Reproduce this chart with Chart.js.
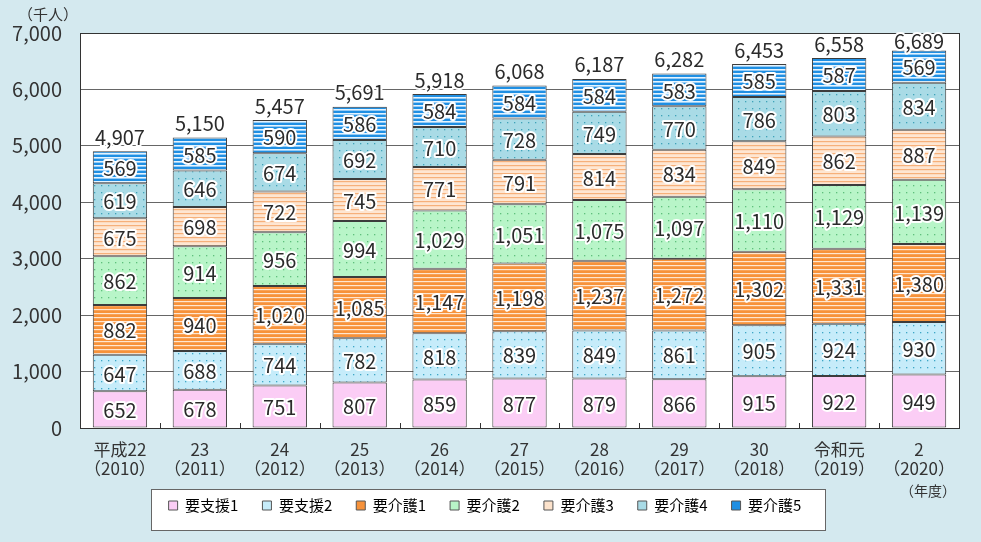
<!DOCTYPE html>
<html lang="ja">
<head>
<meta charset="utf-8">
<script src="https://cdn.jsdelivr.net/npm/chart.js@4/dist/chart.umd.min.js"></script>
<style>
  html, body { margin: 0; padding: 0; background: #d4e9ef; }
  #wrap { width: 981px; height: 542px; }
</style>
</head>
<body>
<div id="wrap"><canvas id="careChart" width="981" height="542"></canvas></div>
<script>
const years = [
  ["平成22", "（2010）"], ["23", "（2011）"], ["24", "（2012）"], ["25", "（2013）"],
  ["26", "（2014）"], ["27", "（2015）"], ["28", "（2016）"], ["29", "（2017）"],
  ["30", "（2018）"], ["令和元", "（2019）"], ["2", "（2020）"]
];
const shien1 = [652, 678, 751, 807, 859, 877, 879, 866, 915, 922, 949];
const shien2 = [647, 688, 744, 782, 818, 839, 849, 861, 905, 924, 930];
const kaigo1 = [882, 940, 1020, 1085, 1147, 1198, 1237, 1272, 1302, 1331, 1380];
const kaigo2 = [862, 914, 956, 994, 1029, 1051, 1075, 1097, 1110, 1129, 1139];
const kaigo3 = [675, 698, 722, 745, 771, 791, 814, 834, 849, 862, 887];
const kaigo4 = [619, 646, 674, 692, 710, 728, 749, 770, 786, 803, 834];
const kaigo5 = [569, 585, 590, 586, 584, 584, 584, 583, 585, 587, 569];
const totals = [4907, 5150, 5457, 5691, 5918, 6068, 6187, 6282, 6453, 6558, 6689];
const yTicks = [0, 1000, 2000, 3000, 4000, 5000, 6000, 7000];

const FONT = "'Noto Sans CJK JP', 'Noto Sans', sans-serif";

function dotPattern(bg, dot) {
  const c = document.createElement("canvas");
  c.width = 7; c.height = 7;
  const g = c.getContext("2d");
  g.fillStyle = bg;
  g.fillRect(0, 0, 7, 7);
  g.fillStyle = dot;
  g.fillRect(3, 3, 1.3, 1.3);
  return g.createPattern(c, "repeat");
}

function stripePattern(bg, line, w) {
  const c = document.createElement("canvas");
  c.width = 8; c.height = 4;
  const g = c.getContext("2d");
  g.fillStyle = bg;
  g.fillRect(0, 0, 8, 4);
  g.fillStyle = line;
  g.fillRect(0, 1, 8, w);
  return g.createPattern(c, "repeat");
}

const series = [
  { label: "要支援1", data: shien1, color: "#fbcdf5", fill: "#fbcdf5" },
  { label: "要支援2", data: shien2, color: "#c6ecfa", fill: dotPattern("#c6ecfa", "#3ea6c6") },
  { label: "要介護1", data: kaigo1, color: "#f7923a", fill: stripePattern("#f7923a", "#ffe6cf", 1.2) },
  { label: "要介護2", data: kaigo2, color: "#b8f5c8", fill: dotPattern("#b8f5c8", "#5fbf7c") },
  { label: "要介護3", data: kaigo3, color: "#fde3cc", fill: stripePattern("#fee6d2", "#f6b07a", 1.2) },
  { label: "要介護4", data: kaigo4, color: "#a9dbe6", fill: dotPattern("#a9dbe6", "#3fa2b8") },
  { label: "要介護5", data: kaigo5, color: "#1f8fe3", fill: stripePattern("#1f8fe3", "#e4f4ff", 1.6) }
];

const fmt = (v) => Number(v).toLocaleString("en-US");

// the x labels are clipped to the x scale box, so the scale is made tall
// and the legend is pulled up over its empty lower part afterwards
const legendShift = {
  id: "legendShift",
  afterLayout(chart) {
    chart.legend.top -= 12;
    chart.legend.bottom -= 12;
  }
};

const backdrop = {
  id: "backdrop",
  beforeDraw(chart) {
    const { ctx, chartArea: a, legend } = chart;
    ctx.save();
    ctx.fillStyle = "#d4e9ef";
    ctx.fillRect(0, 0, chart.width, chart.height);
    ctx.fillStyle = "#ffffff";
    ctx.fillRect(a.left, a.top, a.right - a.left, a.bottom - a.top);
    // legend frame
    const boxes = legend.legendHitBoxes || [];
    if (boxes.length) {
      const l = Math.round(Math.min(...boxes.map((b) => b.left)) - 18);
      const r = Math.round(Math.max(...boxes.map((b) => b.left + b.width)) + 24);
      const t = Math.round(legend.top + 15);
      ctx.fillStyle = "#ffffff";
      ctx.fillRect(l, t, r - l, 41);
      ctx.strokeStyle = "#666";
      ctx.lineWidth = 1;
      ctx.strokeRect(l + 0.5, t + 0.5, r - l, 41);
    }
    ctx.restore();
  }
};

const labels = {
  id: "labels",
  afterDatasetsDraw(chart) {
    const { ctx, chartArea: a } = chart;
    const x = chart.scales.x;
    ctx.save();
    // plot frame
    ctx.strokeStyle = "#333";
    ctx.lineWidth = 1;
    ctx.strokeRect(Math.round(a.left) + 0.5, Math.round(a.top) + 0.5,
      Math.round(a.right - a.left), Math.round(a.bottom - a.top));
    // small ticks between categories
    ctx.beginPath();
    for (let i = 0; i < years.length - 1; i++) {
      const px = Math.round((x.getPixelForValue(i) + x.getPixelForValue(i + 1)) / 2) + 0.5;
      ctx.moveTo(px, a.bottom);
      ctx.lineTo(px, a.bottom - 5);
    }
    ctx.stroke();

    ctx.font = "20px " + FONT;
    ctx.textAlign = "center";
    ctx.textBaseline = "middle";
    ctx.lineJoin = "round";
    ctx.lineWidth = 4;
    ctx.strokeStyle = "#ffffff";
    ctx.fillStyle = "#2b2b2b";
    chart.data.datasets.forEach((ds, di) => {
      chart.getDatasetMeta(di).data.forEach((bar, i) => {
        const cy = (bar.y + bar.base) / 2 + 1;
        const t = fmt(ds.data[i]);
        ctx.strokeText(t, bar.x, cy);
        ctx.fillText(t, bar.x, cy);
      });
    });
    const top = chart.getDatasetMeta(chart.data.datasets.length - 1).data;
    top.forEach((bar, i) => {
      const t = fmt(totals[i]);
      const ty = Math.max(bar.y - 14, a.top + 8);
      ctx.strokeText(t, bar.x, ty);
      ctx.fillText(t, bar.x, ty);
    });

    ctx.font = "15px " + FONT;
    ctx.fillStyle = "#333";
    ctx.fillText("（千人）", 48, 14);
    ctx.font = "14px " + FONT;
    ctx.fillText("（年度）", 928, 491);
    ctx.restore();
  }
};

new Chart(document.getElementById("careChart"), {
  type: "bar",
  data: {
    labels: years,
    datasets: series.map((s) => ({
      label: s.label,
      data: s.data,
      backgroundColor: s.fill,
      legendColor: s.color,
      borderColor: "#3c3c3c",
      borderWidth: 1,
      borderSkipped: false,
      categoryPercentage: 1,
      barPercentage: 0.68
    }))
  },
  options: {
    responsive: false,
    animation: false,
    layout: { padding: { left: 11, right: 22, top: 33, bottom: 7 } },
    plugins: {
      tooltip: { enabled: false },
      legend: {
        position: "bottom",
        labels: {
          boxWidth: 9,
          boxHeight: 9,
          padding: 24,
          color: "#222",
          font: { family: FONT, size: 15 },
          generateLabels(chart) {
            return chart.data.datasets.map((ds, i) => ({
              text: ds.label,
              fillStyle: ds.legendColor,
              strokeStyle: "#555",
              lineWidth: 1,
              datasetIndex: i,
              hidden: false
            }));
          }
        }
      }
    },
    scales: {
      x: {
        stacked: true,
        grid: { display: false },
        border: { display: false },
        ticks: {
          color: "#333",
          font: { family: FONT, size: 17, lineHeight: 1.12 },
          padding: 4,
          maxRotation: 0,
          autoSkip: false
        },
        afterFit(scale) { scale.height = 58; }
      },
      y: {
        stacked: true,
        min: 0,
        max: 7000,
        afterBuildTicks(scale) { scale.ticks = yTicks.map((v) => ({ value: v })); },
        grid: { color: "#666", drawTicks: false },
        border: { display: false },
        ticks: {
          color: "#333",
          font: { family: FONT, size: 20 },
          padding: 18,
          callback: (v) => fmt(v)
        },
        afterFit(scale) { scale.width = 69; }
      }
    }
  },
  plugins: [legendShift, backdrop, labels]
});
</script>
</body>
</html>
